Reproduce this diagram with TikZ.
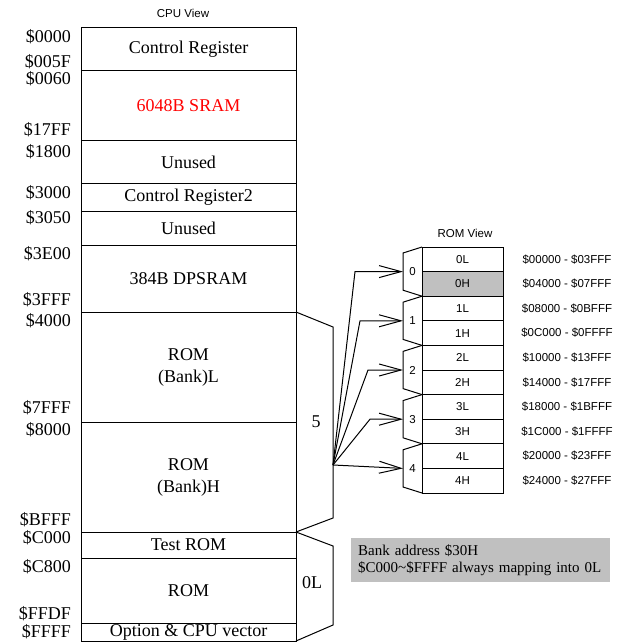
\documentclass[tikz,border=0pt]{standalone}
\usepackage{fontspec}
\setmainfont{Liberation Serif}
\setsansfont{Liberation Sans}
\usetikzlibrary{arrows.meta, positioning}
\definecolor{romgray}{RGB}{192,192,192}
\definecolor{memred}{RGB}{255,0,0}
\newcommand{\memfont}{\fontsize{18}{22}\selectfont}
\newcommand{\viewfont}{\fontsize{11.5}{13}\selectfont\sffamily}
\newcommand{\notefont}{\fontsize{15}{17}\selectfont}
\tikzset{
  region/.style={rectangle, draw, line width=1pt, outer sep=0pt, inner sep=0pt,
                 minimum width=215pt, minimum height=#1, align=center, font=\memfont},
  addr/.style={anchor=east, inner sep=0pt, font=\memfont},
  romrow/.style={rectangle, draw, line width=1pt, outer sep=0pt, fill=#1,
                 minimum width=81pt, minimum height=24.6pt, inner sep=0pt, font=\viewfont},
  tab/.style={minimum width=19pt, minimum height=49.2pt, inner sep=0pt, outer sep=0pt, font=\viewfont},
  romaddr/.style={inner sep=0pt, font=\viewfont},
  fanarrow/.style={line width=1pt, -{Straight Barb[length=22pt,width=12pt]}},
  brace/.style={line width=1pt},
  note/.style={fill=romgray, anchor=north west, text width=245pt, inner xsep=7pt,
               minimum height=44pt, align=left, font=\notefont},
}
\begin{document}
\begin{tikzpicture}[x=1pt, y=-1pt]
\useasboundingbox (0,0) rectangle (620,644);
% CPU view
\node[font=\viewfont] (cpuview) at (183,13) {CPU View};
\node[region=43pt, anchor=north] (creg) at (188.5,28) {Control Register};
\node[region=70pt, below=0pt of creg, text=memred] (sram) {6048B SRAM};
\node[region=43pt, below=0pt of sram] (unused1) {Unused};
\node[region=27pt, below=0pt of unused1] (creg2) {Control Register2};
\node[region=34pt, below=0pt of creg2] (unused2) {Unused};
\node[region=67pt, below=0pt of unused2] (dpsram) {384B DPSRAM};
\node[region=110pt, below=0pt of dpsram] (roml) {ROM\\(Bank)L};
\node[region=110pt, below=0pt of roml] (romh) {ROM\\(Bank)H};
\node[region=26pt, below=0pt of romh] (testrom) {Test ROM};
\node[region=65pt, below=0pt of testrom] (rom) {ROM};
\node[region=18pt, below=0pt of rom] (vector) {Option \& CPU vector};
\foreach \y/\hex [count=\i] in {37/0000, 62/005F, 79/0060, 130/17FF, 152/1800,
    193/3000, 218/3050, 254/3E00, 300/3FFF, 321/4000, 408/7FFF, 430/8000,
    520/BFFF, 538/C000, 567/C800, 614/FFDF, 632/FFFF}
  \node[addr] (a\i) at (71,\y) {\$\hex};
% braces to the banks
\draw[brace] (roml.north east) -- ++(37,15) -- ([shift={(37pt,14pt)}]romh.south east) -- (romh.south east);
\node[font=\memfont] (banks) at (316,422) {5};
\draw[brace] (testrom.north east) -- ++(37,14) -- ([shift={(37pt,16pt)}]vector.south east) -- (vector.south east);
\node[font=\memfont] (fixed) at (312,583) {0L};
% ROM view
\node[font=\viewfont] (romview) at (465,233) {ROM View};
\foreach \bank/\col/\lofrom/\loto/\hifrom/\hito in {0/romgray/00000/03FFF/04000/07FFF,
    1/white/08000/0BFFF/0C000/0FFFF, 2/white/10000/13FFF/14000/17FFF,
    3/white/18000/1BFFF/1C000/1FFFF, 4/white/20000/23FFF/24000/27FFF} {
  \node[romrow=white] (lo\bank) at (462.5,259.3+49.2*\bank) {\bank L};
  \node[romrow=\col, below=0pt of lo\bank] (hi\bank) {\bank H};
  \node[tab] (t\bank) at (412.5,271.6+49.2*\bank) {\bank};
  \draw[brace] (t\bank.north east) -- ([yshift=-6pt]t\bank.north west)
    -- ([yshift=6pt]t\bank.south west) -- (t\bank.south east);
  \node[romaddr] (alo\bank) at ([xshift=64pt]lo\bank.east) {\$\lofrom\ - \$\loto};
  \node[romaddr] (ahi\bank) at ([xshift=64pt]hi\bank.east) {\$\hifrom\ - \$\hito};
}
\coordinate (fan) at (333,465);
\foreach \bank/\dx in {0/48, 1/43, 2/35, 3/33}
  \draw[fanarrow] (fan) -- ([xshift=-\dx pt]t\bank.west) -- (t\bank.west);
\draw[fanarrow] (fan) -- (t4.west);
\node[note] (banknote) at (351,538) {Bank address \$30H\\\$C000\textasciitilde\$FFFF always mapping into 0L};
\end{tikzpicture}
\end{document}
